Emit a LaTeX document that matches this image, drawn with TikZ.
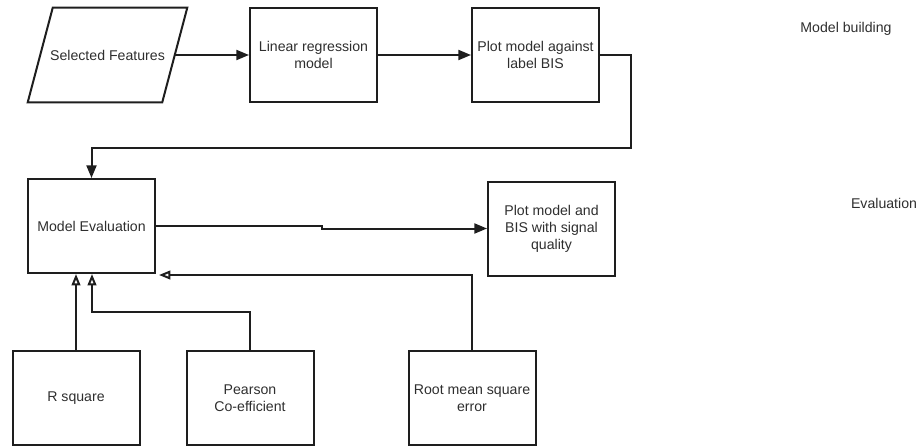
\documentclass[tikz,border=0pt]{standalone}
\usepackage{fontspec}
\setmainfont{Liberation Sans}
\usetikzlibrary{arrows.meta}
\definecolor{ink}{HTML}{1E1E1E}
\definecolor{txt}{HTML}{2E2E2E}
\tikzset{
  box/.style={draw=ink, line width=1.5pt, rectangle, minimum width=95.25pt, minimum height=70.5pt,
    inner sep=0pt, align=center, text=txt, font=\fontsize{10.6pt}{12.75pt}\selectfont},
  plain/.style={inner sep=0pt, align=center, text=txt, font=\fontsize{10.6pt}{12.75pt}\selectfont},
  conn/.style={draw=ink, line width=1.5pt},
  solidarrow/.style={conn, -{Triangle[length=9.5pt,width=7.5pt]}},
  openarrow/.style={conn, -{Triangle[open,length=8.5pt,width=6.5pt]}},
}
\begin{document}
\begin{tikzpicture}[x=0.75pt,y=-0.75pt]
\useasboundingbox (0,0) rectangle (920,446);
% parallelogram input
\node[plain, minimum width=100.5pt, minimum height=70.5pt] (sf) at (107.5,55) {Selected Features};
\draw[conn, line join=miter] ([xshift=-9.375pt]sf.south west) -- ([xshift=-9.375pt]sf.south east)
  -- ([xshift=9.375pt]sf.north east) -- ([xshift=9.375pt]sf.north west) -- cycle;
\node[box] (lr) at (313.5,55) {Linear regression\\model};
\node[box] (pl) at (535.5,55) {Plot model against\\label BIS};
\node[box] (me) at (91.5,226) {Model Evaluation};
\node[box] (pb) at (551.5,228.5) {Plot model and\\BIS with signal\\quality};
\node[box] (rs) at (76,398) {R square};
\node[box] (pc) at (250,398) {Pearson\\Co-efficient};
\node[box] (rm) at (472,398) {Root mean square\\error};
\node[plain] (mb) at (846,29) {Model building};
\node[plain] (ev) at (884,203) {Evaluation};
% connectors
\coordinate (c1) at (631,148);
\coordinate (jog) at (322,227);
\coordinate (c2) at (92,312);
\draw[solidarrow] (sf.east) -- (lr.west);
\draw[solidarrow] (lr.east) -- (pl.west);
\draw[solidarrow] (pl.east) -| (c1) -| (me.north);
\draw[solidarrow] (me.east) -| (jog) |- (pb.west);
\draw[openarrow] (rm.north) |- ([shift={(3,1)}]me.south east);
\draw[openarrow] (rs.north) -- (rs.north |- me.south);
\draw[openarrow] (pc.north) |- (c2) -- (c2 |- me.south);
\end{tikzpicture}
\end{document}
